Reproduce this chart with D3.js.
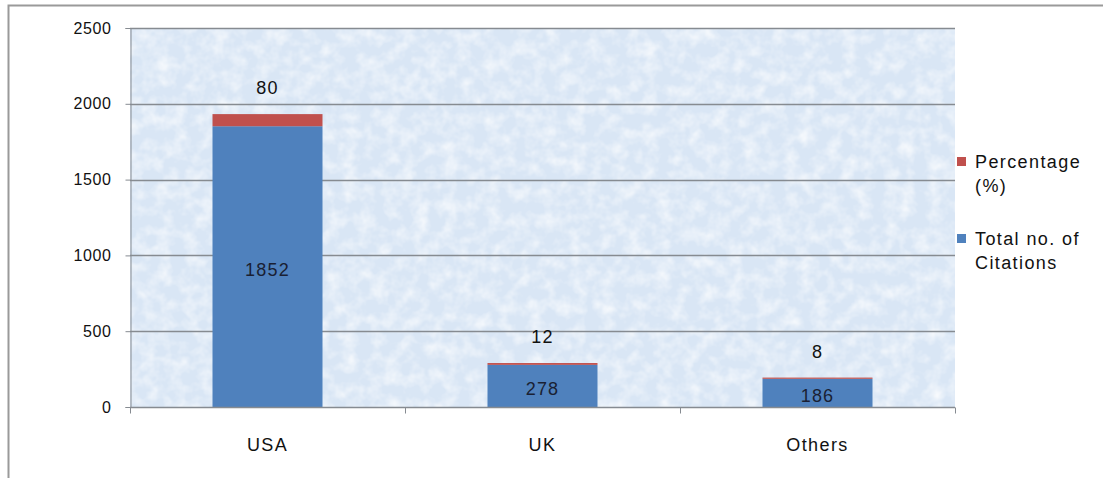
<!DOCTYPE html>
<html>
<head>
<meta charset="utf-8">
<script src="https://cdn.jsdelivr.net/npm/d3@7"></script>
<style>
  html, body { margin: 0; padding: 0; background: #fff; }
  svg { display: block; font-family: "Liberation Sans", Arial, sans-serif; }
</style>
</head>
<body>
<svg id="chart" width="1103" height="478"></svg>
<script>
// Citation counts by country, stacked with the percentage share
const categories = ["USA", "UK", "Others"];
const citations = [1852, 278, 186];
const percentage = [80, 12, 8];
const yTicks = [0, 500, 1000, 1500, 2000, 2500];
const seriesNames = ["Percentage (%)", "Total no. of Citations"];

const svg = d3.select("#chart");
const W = 1103, H = 478;
const plot = { left: 130, right: 955, top: 28, bottom: 407 };
const ink = "#111";
const lineGray = "#868b91";

// Outer frame (runs off the right and bottom edges)
svg.append("path")
  .attr("d", `M8.5,${H + 5} V5.5 H${W + 5}`)
  .attr("fill", "none").attr("stroke", "#9a9a9a").attr("stroke-width", 2);

// Mottled light-blue plot fill
const defs = svg.append("defs");
const f = defs.append("filter").attr("id", "mottle")
  .attr("x", 0).attr("y", 0).attr("width", 1).attr("height", 1);
f.append("feTurbulence").attr("type", "fractalNoise")
  .attr("baseFrequency", "0.07").attr("numOctaves", 3).attr("seed", 11).attr("result", "n");
f.append("feColorMatrix").attr("in", "n").attr("type", "matrix")
  .attr("values", "0 0 0 0 1  0 0 0 0 1  0 0 0 0 1  1.3 0 0 0 -0.5")
  .attr("result", "c");
f.append("feComposite").attr("in", "c").attr("in2", "SourceGraphic").attr("operator", "in");

const x = d3.scaleBand().domain(categories).range([plot.left, plot.right]).paddingInner(0.6).paddingOuter(0.3);
const xb = d3.scaleBand().domain(categories).range([plot.left, plot.right]);
const y = d3.scaleLinear().domain([0, 2500]).range([plot.bottom, plot.top]);

svg.append("rect")
  .attr("x", plot.left).attr("y", plot.top)
  .attr("width", plot.right - plot.left).attr("height", plot.bottom - plot.top)
  .attr("fill", "#d9e6f5");
svg.append("rect")
  .attr("x", plot.left).attr("y", plot.top)
  .attr("width", plot.right - plot.left).attr("height", plot.bottom - plot.top)
  .attr("fill", "#fff").attr("filter", "url(#mottle)");

// Gridlines
svg.append("g").selectAll("line").data(yTicks.filter(d => d > 0)).join("line")
  .attr("x1", plot.left).attr("x2", plot.right)
  .attr("y1", d => Math.round(y(d)) + 0.5).attr("y2", d => Math.round(y(d)) + 0.5)
  .attr("stroke", lineGray).attr("stroke-width", 1.3);

// Stacked bars
const stackData = categories.map((c, i) => ({ cat: c, cit: citations[i], pct: percentage[i] }));
const stack = d3.stack().keys(["cit", "pct"])(stackData);
const colors = { cit: "#4f81bd", pct: "#c0504d" };

svg.append("g").selectAll("g").data(stack).join("g")
  .attr("fill", s => colors[s.key])
  .selectAll("rect").data(s => s).join("rect")
  .attr("x", d => x(d.data.cat))
  .attr("width", x.bandwidth())
  .attr("y", d => y(d[1]))
  .attr("height", d => y(d[0]) - y(d[1]));

// Axes
const yAxis = d3.axisLeft(y).tickValues(yTicks).tickFormat(d3.format("d")).tickSize(5).tickPadding(14);
const gy = svg.append("g").attr("transform", `translate(${plot.left + 0.5},0)`).call(yAxis);
gy.select(".domain").attr("stroke", lineGray);
gy.selectAll(".tick line").attr("stroke", lineGray);
gy.selectAll("text").attr("font-size", 16).attr("letter-spacing", 0.6).attr("fill", ink)
  .attr("font-family", "Liberation Sans, Arial, sans-serif");

const gx = svg.append("g").attr("transform", `translate(0,${plot.bottom + 0.5})`);
gx.append("line").attr("x1", plot.left).attr("x2", plot.right)
  .attr("stroke", lineGray).attr("stroke-width", 1.3);
gx.selectAll("line.tk").data([0, 1, 2, 3]).join("line").attr("class", "tk")
  .attr("x1", i => plot.left + i * xb.bandwidth() + 0.5)
  .attr("x2", i => plot.left + i * xb.bandwidth() + 0.5)
  .attr("y1", 0).attr("y2", 6).attr("stroke", lineGray);
gx.selectAll("text").data(categories).join("text")
  .attr("x", d => xb(d) + xb.bandwidth() / 2)
  .attr("y", 43)
  .attr("text-anchor", "middle")
  .attr("font-size", 18).attr("letter-spacing", 1.4).attr("fill", ink)
  .text(d => d);

// Value labels
svg.append("g").selectAll("text").data(stackData).join("text")
  .attr("x", d => x(d.cat) + x.bandwidth() / 2)
  .attr("y", d => (y(0) + y(d.cit)) / 2 + 9.5)
  .attr("text-anchor", "middle").attr("font-size", 18).attr("letter-spacing", 1.2).attr("fill", "#1a1f33")
  .text(d => d.cit);
svg.append("g").selectAll("text").data(stackData).join("text")
  .attr("x", d => x(d.cat) + x.bandwidth() / 2)
  .attr("y", d => y(d.cit + d.pct) - 20)
  .attr("text-anchor", "middle").attr("font-size", 18).attr("letter-spacing", 1.2).attr("fill", ink)
  .text(d => d.pct);

// Legend
const legend = [
  { color: colors.pct, lines: ["Percentage", "(%)"], y: 157 },
  { color: colors.cit, lines: ["Total no. of", "Citations"], y: 234 }
];
const lg = svg.append("g").selectAll("g").data(legend).join("g");
lg.append("rect").attr("x", 957).attr("y", d => d.y).attr("width", 9).attr("height", 9)
  .attr("fill", d => d.color);
lg.append("text").attr("x", 975).attr("y", d => d.y + 11)
  .attr("font-size", 18).attr("letter-spacing", 1.4).attr("fill", ink)
  .selectAll("tspan").data(d => d.lines).join("tspan")
  .attr("x", 975).attr("dy", (d, i) => i === 0 ? 0 : 24)
  .text(d => d);
</script>
</body>
</html>
